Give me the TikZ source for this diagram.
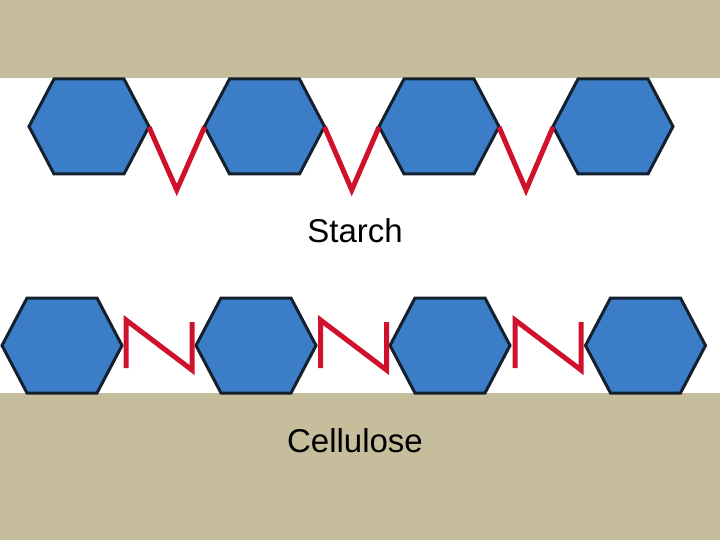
\documentclass[tikz,border=0pt]{standalone}
\usepackage{fontspec}
\setmainfont{Liberation Sans}
\definecolor{tan}{HTML}{C5BD9C}
\definecolor{hexblue}{HTML}{3B7DC6}
\definecolor{hexline}{HTML}{15202E}
\definecolor{linkred}{HTML}{D0112B}
\begin{document}
\begin{tikzpicture}[x=1pt,y=-1pt,
  hexa/.style={fill=hexblue,draw=hexline,line width=3pt,line join=miter},
  link/.style={draw=linkred,line width=5pt,line join=miter},
  lbl/.style={font=\fontsize{33pt}{38pt}\selectfont,text=black},
  pics/hexagon/.style={code={\path[hexa] (-60,0) -- (-35,-47.5) -- (35,-47.5) -- (60,0) -- (35,47.5) -- (-35,47.5) -- cycle;}}]
\useasboundingbox (0,0) rectangle (720,540);
\fill[tan] (0,0) rectangle (720,78);
\fill[tan] (0,393) rectangle (720,540);
% starch
\foreach \cx in {89,264.5,439,613}{\pic at (\cx,126.5) {hexagon};}
\foreach \a/\b in {149/204.5,324.5/379,499/553}{
  \path[link] (\a,127) -- ({(\a+\b)/2},190) -- (\b,127);}
% cellulose
\foreach \cx in {62,256,450,645.5}{\pic at (\cx,345.5) {hexagon};}
\foreach \a in {126,320.5,515}{
  \path[link] (\a,368) -- (\a,320) -- (\a+66,370) -- (\a+66,322);}
\node[lbl] (starch) at (355,231) {Starch};
\node[lbl] (cell) at (355,441) {Cellulose};
\end{tikzpicture}
\end{document}
